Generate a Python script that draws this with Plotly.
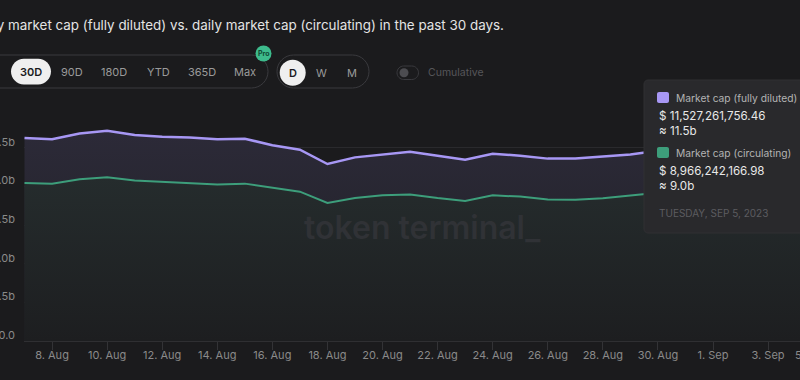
import plotly.graph_objects as go
import pandas as pd

# ---- data ----
dates = pd.date_range("2023-08-07", "2023-09-05", freq="D").strftime("%Y-%m-%d").tolist()
fdv_b = [13.15, 13.06, 13.43, 13.62, 13.34, 13.23, 13.17, 13.06, 13.10, 12.67,
         12.39, 11.46, 11.89, 12.09, 12.26, 12.00, 11.74, 12.13, 12.00, 11.81,
         11.81, 11.94, 12.07, 12.32, 12.20, 12.00, 11.82, 11.70, 11.60, 11.527]
circ_b = [10.23, 10.19, 10.47, 10.60, 10.40, 10.30, 10.23, 10.14, 10.19, 9.91,
          9.67, 8.94, 9.26, 9.44, 9.49, 9.26, 9.07, 9.43, 9.35, 9.17,
          9.15, 9.24, 9.41, 9.60, 9.49, 9.34, 9.20, 9.10, 9.03, 8.966]
ytick_vals = [0, 2.5, 5, 7.5, 10, 12.5]
ytick_text = ["0.0", "2.5b", "5.0b", "7.5b", "10.0b", "12.5b"]
last_tick_text = "5. Sep"
range_buttons = ["30D", "90D", "180D", "YTD", "365D", "Max"]
period_buttons = ["D", "W", "M"]
title_text = "Daily market cap (fully diluted) vs. daily market cap (circulating) in the past 30 days."
tooltip_date = "TUESDAY, SEP 5, 2023"
fdv_name = "Market cap (fully diluted)"
circ_name = "Market cap (circulating)"
fdv_exact = "$ 11,527,261,756.46"
circ_exact = "$ 8,966,242,166.98"
fdv_approx = "≈ 11.5b"
circ_approx = "≈ 9.0b"

# ---- layout geometry ----
W, H = 800, 380
L, R, T, B = 24, 0, 118, 39
PW, PH = W - L - R, H - T - B
BG = "#1b1b1d"
PURPLE = "#a797f4"
GREEN = "#3d9e7b"
FONT = "Inter"
X_RANGE = ["2023-08-06 23:34", "2023-09-04 03:49"]


def px(x):
    return (x - L) / PW


def py(y):
    return (H - B - y) / PH


def rrect(x0, y0, x1, y1, r):
    k = 0.5523 * r
    pts = [
        f"M {px(x0 + r)},{py(y0)}",
        f"L {px(x1 - r)},{py(y0)}",
        f"C {px(x1 - r + k)},{py(y0)} {px(x1)},{py(y0 + r - k)} {px(x1)},{py(y0 + r)}",
        f"L {px(x1)},{py(y1 - r)}",
        f"C {px(x1)},{py(y1 - r + k)} {px(x1 - r + k)},{py(y1)} {px(x1 - r)},{py(y1)}",
        f"L {px(x0 + r)},{py(y1)}",
        f"C {px(x0 + r - k)},{py(y1)} {px(x0)},{py(y1 - r + k)} {px(x0)},{py(y1 - r)}",
        f"L {px(x0)},{py(y0 + r)}",
        f"C {px(x0)},{py(y0 + r - k)} {px(x0 + r - k)},{py(y0)} {px(x0 + r)},{py(y0)}",
        "Z",
    ]
    return " ".join(pts)


shapes = []
annotations = []


def add_rrect(x0, y0, x1, y1, r, fill="rgba(0,0,0,0)", line=None, lw=1):
    shapes.append(dict(type="path", xref="paper", yref="paper", path=rrect(x0, y0, x1, y1, r),
                       fillcolor=fill, line=dict(color=line or "rgba(0,0,0,0)", width=lw if line else 0),
                       layer="above"))


def add_circle(cx, cy, r, fill, line=None):
    shapes.append(dict(type="circle", xref="paper", yref="paper",
                       x0=px(cx - r), x1=px(cx + r), y0=py(cy + r), y1=py(cy - r),
                       fillcolor=fill, line=dict(color=line or "rgba(0,0,0,0)", width=1 if line else 0),
                       layer="above"))


def add_text(x, y, text, size=11, color="#9a9a9a", xanchor="center", weight=None):
    f = dict(family=FONT, size=size, color=color)
    if weight:
        f["weight"] = weight
    annotations.append(dict(xref="paper", yref="paper", x=px(x), y=py(y), text=text,
                            showarrow=False, xanchor=xanchor, yanchor="middle", font=f))


fig = go.Figure()

fig.add_trace(go.Scatter(
    x=dates, y=fdv_b, mode="lines", name=fdv_name, fill="tozeroy",
    line=dict(color=PURPLE, width=2.5),
    fillgradient=dict(type="vertical", start=0, stop=13.6,
                      colorscale=[[0, "#1f1f24"], [1, "#2c2a38"]]),
    hoverinfo="skip", showlegend=False))

fig.add_trace(go.Scatter(
    x=dates, y=circ_b, mode="lines", name=circ_name, fill="tozeroy",
    line=dict(color=GREEN, width=2),
    fillgradient=dict(type="vertical", start=0, stop=10.6,
                      colorscale=[[0, "#1d1e20"], [1, "#252c2d"]]),
    hoverinfo="skip", showlegend=False))

# title
add_text(506, 25, title_text, size=13.4, color="#e4e4e4", xanchor="right")

# range button group
add_rrect(-30, 55, 268, 88, 16.5, line="#3a3a3e")
add_rrect(11, 58.7, 51, 84.5, 12.9, fill="#efefef")
for lbl, cx in zip(range_buttons, [31, 72, 114, 158, 202, 245]):
    sel = lbl == "30D"
    add_text(cx, 72, lbl, size=11, color="#1b1b1d" if sel else "#9a9a9a",
             weight=600 if sel else None)
add_circle(263.5, 53.5, 8, "#3dbb8c")
add_text(263.5, 53.5, "Pro", size=7, color="#114a35", weight=700)

# period button group
add_rrect(277, 55, 369, 88, 16.5, line="#3a3a3e")
add_circle(292.7, 72.7, 13, "#efefef")
for lbl, cx in zip(period_buttons, [292.7, 321, 351.7]):
    sel = lbl == "D"
    add_text(cx, 72.5, lbl, size=11, color="#1b1b1d" if sel else "#9a9a9a",
             weight=600 if sel else None)

# cumulative toggle
add_rrect(397, 66, 418.5, 79.5, 6.75, line="#3a3a3e")
add_circle(404, 72.7, 4.5, "#4c4c50")
add_text(426, 72.5, "Cumulative", size=10.5, color="#56565a", xanchor="left")

# watermark
annotations.append(dict(xref="paper", yref="paper", x=px(423), y=py(227), text="token terminal_",
                        showarrow=False, xanchor="center", yanchor="middle",
                        font=dict(family=FONT, size=32, color="#303236", weight=600)))

# last x tick label, mostly beyond the (cropped) right edge
add_text(793, 355, last_tick_text, size=11, color="#8a8a8a", xanchor="left")

# tooltip
add_rrect(644, 80, 815, 233, 4, fill="#29292c", line="#303033")
add_rrect(657, 92, 669, 103, 2, fill=PURPLE)
add_text(674, 97.5, fdv_name, size=10.25, color="#b4b4b4", xanchor="left")
add_text(657, 116, fdv_exact, size=11.6, color="#e8e8e8", xanchor="left")
add_text(657, 131, fdv_approx, size=11.6, color="#e8e8e8", xanchor="left")
add_rrect(657, 147, 669, 158, 2, fill=GREEN)
add_text(674, 152.5, circ_name, size=10.25, color="#b4b4b4", xanchor="left")
add_text(657, 171, circ_exact, size=11.6, color="#e8e8e8", xanchor="left")
add_text(657, 186, circ_approx, size=11.6, color="#e8e8e8", xanchor="left")
add_text(657, 213, tooltip_date, size=10, color="#5c5c60", xanchor="left")

fig.update_layout(
    width=W, height=H,
    margin=dict(l=L, r=R, t=T, b=B, pad=0, autoexpand=False),
    paper_bgcolor=BG, plot_bgcolor=BG,
    font=dict(family=FONT, color="#8a8a8a", size=11),
    shapes=shapes, annotations=annotations,
    showlegend=False,
    xaxis=dict(
        type="date", range=X_RANGE,
        tick0="2023-08-08", dtick=2 * 86400000, tickformat="%-d. %b",
        ticks="outside", ticklen=8, tickcolor="#333336",
        showline=True, linecolor="#2f2f32", linewidth=1,
        showgrid=False, zeroline=False, automargin=False,
        ticklabelstandoff=-4,
        tickfont=dict(family=FONT, size=11, color="#8a8a8a"),
        fixedrange=True,
    ),
    yaxis=dict(
        range=[0, 14.44], tickvals=ytick_vals, ticktext=ytick_text,
        showgrid=True, gridcolor="#2a2a2d", gridwidth=1,
        zeroline=False, showline=False, ticks="", automargin=False,
        ticklabelstandoff=8, ticklabelshift=-6,
        tickfont=dict(family=FONT, size=11, color="#8a8a8a"),
        fixedrange=True,
    ),
)

fig.write_html(
    "out.html",
    config={"displayModeBar": False},
    post_script="document.body.style.margin='0';document.body.style.background='#1b1b1d';",
)
